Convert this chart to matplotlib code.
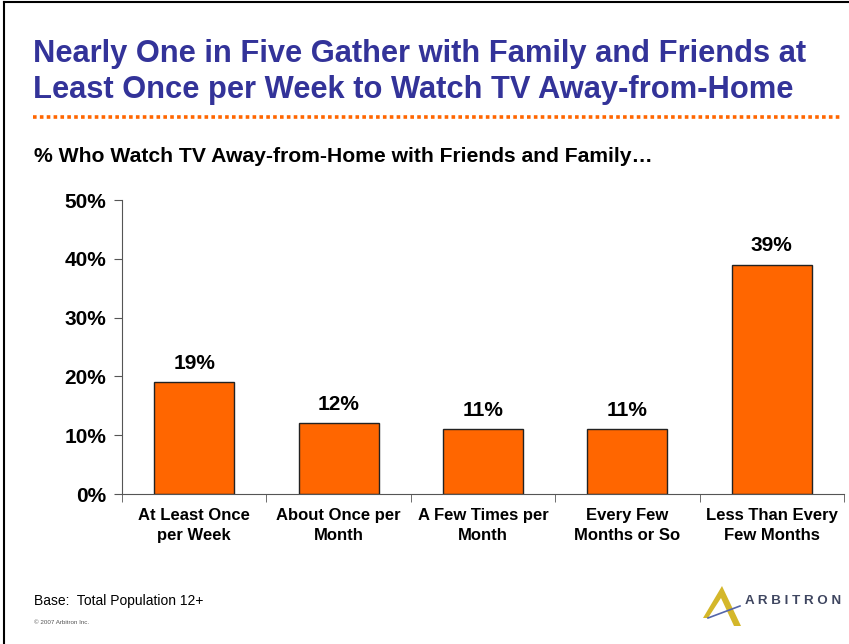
import matplotlib.pyplot as plt
from matplotlib.lines import Line2D
from matplotlib.patches import Polygon

# data
categories = ["At Least Once\nper Week", "About Once per\nMonth", "A Few Times per\nMonth",
              "Every Few\nMonths or So", "Less Than Every\nFew Months"]
values = [19, 12, 11, 11, 39]
yticks = [0, 10, 20, 30, 40, 50]

title = "Nearly One in Five Gather with Family and Friends at\nLeast Once per Week to Watch TV Away-from-Home"
subtitle = "% Who Watch TV Away-from-Home with Friends and Family\u2026"

plt.rcParams['font.family'] = ['Liberation Sans', 'DejaVu Sans']

W, H = 849, 644
fig = plt.figure(figsize=(W / 100, H / 100), dpi=100)
fig.patch.set_facecolor('white')

def fx(px):
    return px / W

def fy(py):
    return 1 - py / H

# slide frame (top and left edges)
fig.add_artist(Line2D([fx(4), fx(4)], [fy(2), fy(644)], color='black', lw=1.5))
fig.add_artist(Line2D([fx(4), fx(849)], [fy(2), fy(2)], color='black', lw=1.5))

# title + dotted rule + subtitle
fig.text(fx(33), fy(72), title, color='#333399', fontsize=22.2, fontweight='bold',
         ha='left', va='center', linespacing=1.22)
fig.add_artist(Line2D([fx(33), fx(842)], [fy(117), fy(117)], color='#FF6600', lw=2.6,
                      linestyle=(0, (1, 0.9))))
fig.text(fx(34), fy(157), subtitle, color='black', fontsize=15.2, fontweight='bold',
         ha='left', va='center')

# chart
ax = fig.add_axes([fx(122), fy(494), fx(844) - fx(122), fy(200) - fy(494)])
x = range(len(categories))
bars = ax.bar(x, values, width=0.555, color='#FF6600', edgecolor='#222222', linewidth=1)
for b, v in zip(bars, values):
    ax.annotate(f"{v}%", (b.get_x() + b.get_width() / 2, v), xytext=(0, 7),
                textcoords='offset points', ha='center', va='bottom',
                fontsize=15, fontweight='bold')

ax.set_xlim(-0.5, len(categories) - 0.5)
ax.set_ylim(0, 50)
ax.set_yticks(yticks)
ax.set_yticklabels([f"{t}%" for t in yticks], fontsize=15, fontweight='bold')
ax.set_xticks(list(x))
ax.set_xticklabels(categories, fontsize=12, fontweight='bold', linespacing=1.4)
ax.tick_params(axis='x', length=0, pad=10)
ax.set_xticks([i + 0.5 for i in range(-1, len(categories))], minor=True)
ax.tick_params(axis='x', which='minor', length=6, direction='out', color='#555555')
ax.tick_params(axis='y', length=6, direction='out', color='#555555', pad=5.5)
for s in ['top', 'right']:
    ax.spines[s].set_visible(False)
ax.spines['left'].set_color('#555555')
ax.spines['bottom'].set_color('#555555')

# footer
fig.text(fx(34), fy(601), "Base:  Total Population 12+", fontsize=10, ha='left', va='center')
fig.text(fx(34), fy(622), "\u00a9 2007 Arbitron Inc.", fontsize=4.5, color='#555555',
         ha='left', va='center')

# logo
gold = '#D4B72A'
fig.add_artist(Polygon([(fx(703), fy(618)), (fx(722), fy(586)), (fx(741), fy(626)),
                        (fx(734), fy(626)), (fx(721), fy(598)), (fx(708), fy(618))],
                       closed=True, facecolor=gold, edgecolor='none'))
fig.add_artist(Line2D([fx(708), fx(740)], [fy(618), fy(606)], color='#5566AA', lw=1.2))
fig.text(fx(745), fy(601), "A R B I T R O N", fontsize=9.6, fontweight='bold',
         color='#3F4660', ha='left', va='center')

fig.savefig('out.png', dpi=100)
